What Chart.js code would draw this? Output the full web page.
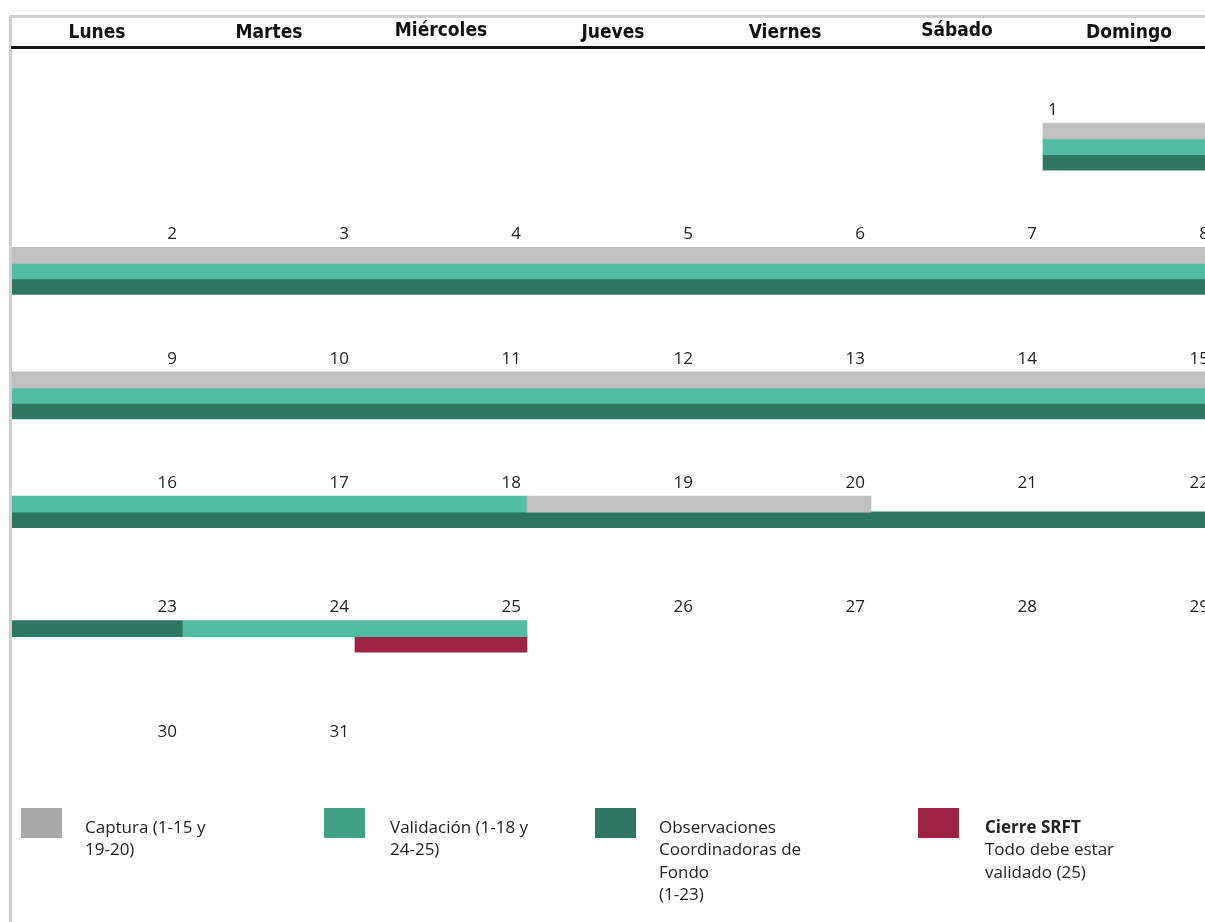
<!DOCTYPE html>
<html>
<head>
<meta charset="utf-8">
<script src="https://cdn.jsdelivr.net/npm/chart.js@4/dist/chart.umd.min.js"></script>
<style>
  html, body { margin: 0; padding: 0; background: #fff; }
  #wrap { width: 1205px; height: 922px; }
</style>
</head>
<body>
<div id="wrap"><canvas id="cal" width="1205" height="922"></canvas></div>
<script>
// Calendar data
const weekdays = ['Lunes', 'Martes', 'Miércoles', 'Jueves', 'Viernes', 'Sábado', 'Domingo'];
const daysInMonth = 31;
const firstWeekday = 6; // day 1 falls on Domingo

// day ranges (inclusive) for each activity
const captura = [[1, 15], [19, 20]];
const validacion = [[1, 18], [24, 25]];
const observaciones = [[1, 23]];
const cierre = [[25, 25]];

const seriesNames = ['Captura', 'Validación', 'Observaciones', 'Cierre SRFT'];
const barColors = ['#c0c0c0', '#52bca3', '#2e7863', '#9e2243'];
const legendColors = ['#a8a8a8', '#40a287', '#2e7663', '#9e2243'];
const legendLines = [
    ['Captura (1-15 y', '19-20)'],
    ['Validación (1-18 y', '24-25)'],
    ['Observaciones', 'Coordinadoras de', 'Fondo', '(1-23)'],
    ['Cierre SRFT', 'Todo debe estar', 'validado (25)']
];

const SLOTS_PER_WEEK = 8;
const SLOT_PX = 15.55;

function dayPos(day) {
    const idx = day - 1 + firstWeekday;
    return { week: Math.floor(idx / 7), col: idx % 7 };
}

// split day ranges into per-week segments
function toSegments(ranges) {
    const segs = [];
    ranges.forEach(([a, b]) => {
        let cur = null;
        for (let d = a; d <= b; d++) {
            const p = dayPos(d);
            if (cur && cur.week === p.week) {
                cur.c1 = p.col;
            } else {
                cur = { week: p.week, c0: p.col, c1: p.col };
                segs.push(cur);
            }
        }
    });
    return segs;
}

// pack segments into the lowest free slot of each week
const occupied = {};
function place(seg) {
    const weekSlots = occupied[seg.week] || (occupied[seg.week] = []);
    let slot = 0;
    while (true) {
        const used = weekSlots[slot] || (weekSlots[slot] = []);
        const clash = used.some(u => seg.c0 < u.c1 + 1 && u.c0 < seg.c1 + 1);
        if (!clash) {
            used.push(seg);
            return slot;
        }
        slot++;
    }
}

const allRanges = [captura, validacion, observaciones, cierre];
const datasets = allRanges.map((ranges, i) => ({
    label: seriesNames[i],
    data: toSegments(ranges).map(seg => ({
        x: [seg.c0, seg.c1 + 1],
        y: seg.week * SLOTS_PER_WEEK + place(seg)
    })),
    backgroundColor: barColors[i],
    borderWidth: 0,
    barThickness: 16,
    grouped: false
}));

const yMin = -131 / SLOT_PX;

const calendarDecor = {
    id: 'calendarDecor',
    afterDraw(chart) {
        const ctx = chart.ctx;
        const xs = chart.scales.x;
        const ys = chart.scales.y;
        ctx.save();

        // frame lines
        ctx.fillStyle = '#cfcfcf';
        ctx.fillRect(9, 15, 1205, 3);
        ctx.fillRect(9, 15, 3, 922);
        ctx.fillStyle = '#111';
        ctx.fillRect(11, 46, 1205, 3);

        // weekday header
        ctx.font = 'bold 19px "DejaVu Sans Condensed", "DejaVu Sans", sans-serif';
        ctx.textAlign = 'center';
        ctx.textBaseline = 'middle';
        ctx.fillStyle = '#111';
        weekdays.forEach((w, i) => {
            ctx.fillText(w, xs.getPixelForValue(i + 0.5), i === 2 || i === 5 ? 31 : 33);
        });

        // day numbers
        ctx.font = '17px "Open Sans", sans-serif';
        ctx.fillStyle = '#222';
        for (let d = 1; d <= daysInMonth; d++) {
            const p = dayPos(d);
            const y = ys.getPixelForValue(p.week * SLOTS_PER_WEEK) - 21;
            if (d === 1) {
                // first day sits at the left of its cell
                ctx.textAlign = 'left';
                ctx.fillText(String(d), xs.getPixelForValue(p.col) + 5, y);
            } else {
                ctx.textAlign = 'right';
                ctx.fillText(String(d), xs.getPixelForValue(p.col + 1) - 6, y);
            }
        }

        // legend
        const legendX = [21, 324, 595, 918];
        const textX = [85, 390, 659, 985];
        ctx.textAlign = 'left';
        legendLines.forEach((lines, i) => {
            ctx.fillStyle = legendColors[i];
            ctx.fillRect(legendX[i], 808, 41, 30);
            ctx.fillStyle = '#222';
            lines.forEach((t, j) => {
                ctx.font = (i === 3 && j === 0 ? 'bold ' : '') + '17px "Open Sans", sans-serif';
                ctx.fillText(t, textX[i], 828 + j * 22.5);
            });
        });

        ctx.restore();
    }
};

new Chart(document.getElementById('cal').getContext('2d'), {
    type: 'bar',
    data: { datasets: datasets },
    options: {
        indexAxis: 'y',
        responsive: false,
        animation: false,
        layout: { padding: { left: 11, right: 0, top: 0, bottom: 0 } },
        plugins: {
            legend: { display: false },
            tooltip: { enabled: false }
        },
        scales: {
            x: {
                type: 'linear',
                min: 0,
                max: (1205 - 11) / 172,
                offset: false,
                display: false
            },
            y: {
                type: 'linear',
                reverse: true,
                offset: false,
                min: yMin,
                max: yMin + 922 / SLOT_PX,
                display: false
            }
        }
    },
    plugins: [calendarDecor]
});
</script>
</body>
</html>
